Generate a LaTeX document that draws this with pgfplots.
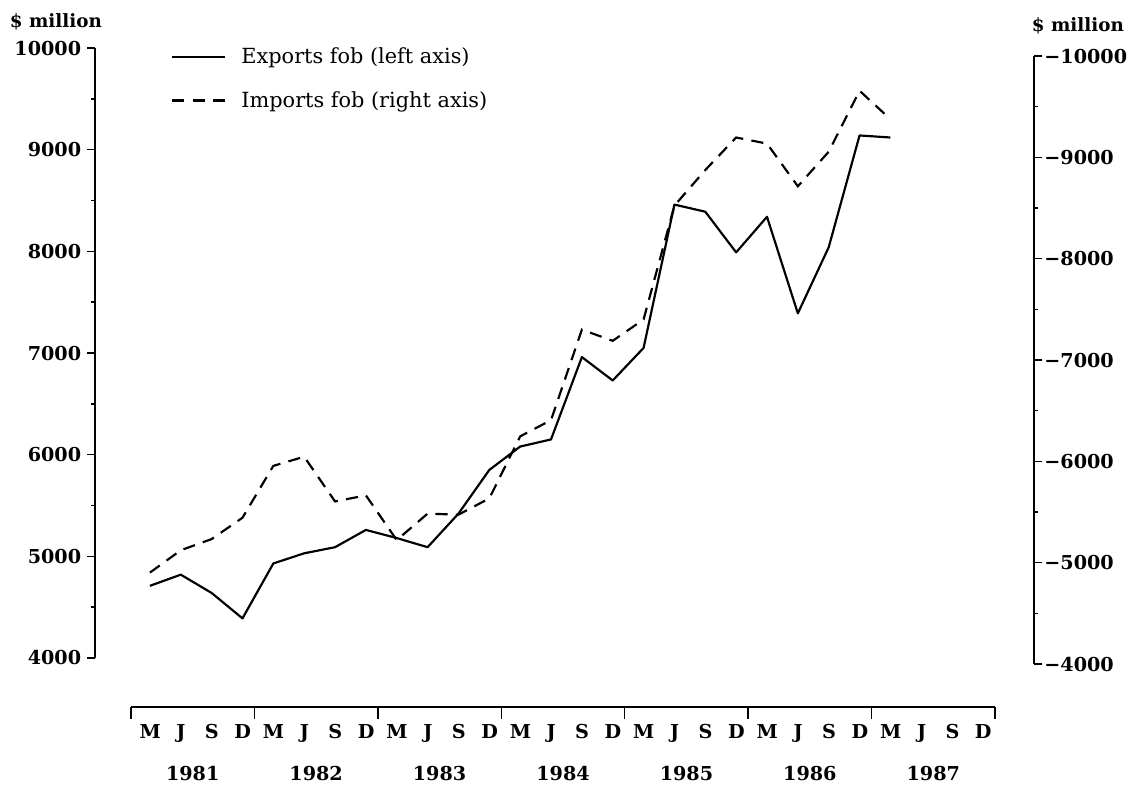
\documentclass[border=0pt]{standalone}
\usepackage{fontspec}
\setmainfont{DejaVu Serif}
\usepackage{pgfplots}
\usepackage{pgfplotstable}
\pgfplotsset{compat=1.18}
\def\u{0.6pt}
\pgfplotstableread{
i exp imp
0 4710 4840
1 4820 5060
2 4640 5170
3 4390 5380
4 4930 5890
5 5030 5980
6 5090 5540
7 5260 5600
8 5180 5160
9 5090 5420
10 5420 5410
11 5850 5570
12 6080 6180
13 6150 6340
14 6960 7230
15 6730 7120
16 7050 7330
17 8460 8450
18 8390 8800
19 7990 9120
20 8340 9060
21 7390 8640
22 8040 8980
23 9140 9580
24 9120 9300
}\trade
\begin{document}
\begin{tikzpicture}
\useasboundingbox (0,0) rectangle (1131*\u,-785*\u);
\pgfplotsset{
  common/.style={
    scale only axis,
    axis x line=none,
    tick align=outside,
    major tick length=4.8pt, minor tick length=2.4pt,
    every tick/.style={black, line width=0.9pt},
    axis line style={-, line width=1pt},
    scaled ticks=false,
    /pgf/number format/assume math mode=true,
    /pgf/number format/1000 sep={},
    ticklabel style={font=\fontsize{11.5}{14}\selectfont\bfseries},
    minor y tick num=1,
  }
}
% right axis (imports, negative scale)
\begin{axis}[common,
  width=10pt, height=364.8pt,
  at={(1034*\u,-664*\u)}, anchor=south east,
  xmin=0, xmax=1,
  ymin=-10000, ymax=-4000, y dir=reverse,
  axis y line*=right,
  ytick={-10000,-9000,...,-4000},
  yticklabels={−10000,−9000,−8000,−7000,−6000,−5000,−4000},
  yticklabel style={inner sep=1.2pt},
]
\end{axis}
% left axis with both series
\begin{axis}[common,
  width=540pt, height=366pt,
  at={(95*\u,-658*\u)}, anchor=south west,
  xmin=-1.78, xmax=27.39,
  ymin=4000, ymax=10000,
  axis y line*=left,
  ytick={4000,5000,...,10000},
  legend style={at={(0.084,1.006)}, anchor=north west, draw=none, fill=none,
    font=\fontsize{12.5}{14}\selectfont, row sep=11pt, inner sep=0pt,
    nodes={inner sep=2pt}},
  legend cell align=left,
  legend image code/.code={\draw[#1] (0pt,0pt) -- (32pt,0pt); \path (39pt,0pt);},
  clip=false,
]
\addplot[black, line width=1.3pt, line join=round] table[x=i, y=exp] {\trade};
\addlegendentry{Exports fob (left axis)}
\addplot[black, line width=1.3pt, dash pattern=on 7.3pt off 5pt] table[x=i, y=imp] {\trade};
\addlegendentry{Imports fob (right axis)}
\end{axis}
% bottom time axis
\begin{axis}[
  scale only axis, width=518.4pt, height=10pt,
  at={(131*\u,-707*\u)}, anchor=south west,
  xmin=-0.62, xmax=27.38, ymin=0, ymax=1,
  axis x line*=bottom, axis y line=none,
  axis line style={-, line width=1pt},
  xtick={0,...,27},
  xticklabels={M,J,S,D,M,J,S,D,M,J,S,D,M,J,S,D,M,J,S,D,M,J,S,D,M,J,S,D},
  major tick length=0pt,
  tick align=outside,
  every tick/.style={black, line width=0.9pt},
  xticklabel style={font=\fontsize{11.5}{14}\selectfont\bfseries, anchor=base, yshift=-19pt},
  extra x ticks={-0.62,3.38,7.38,11.38,15.38,19.38,23.38,27.38},
  extra x tick labels={},
  extra x tick style={major tick length=7pt},
  clip=false,
]
\foreach \k/\yr in {0/1981,1/1982,2/1983,3/1984,4/1985,5/1986,6/1987}{
  \edef\tmp{\noexpand\node[anchor=base, font=\noexpand\fontsize{11.5}{14}\noexpand\selectfont\noexpand\bfseries] at (axis cs:{1.38+4*\k},0) [yshift=-44pt] {\yr};}\tmp
}
\end{axis}
\node[anchor=base west, font=\fontsize{11}{13}\selectfont\bfseries] at (4*\u,-27*\u) {\$ million};
\node[anchor=base west, font=\fontsize{11}{13}\selectfont\bfseries] at (1026*\u,-31*\u) {\$ million};
\end{tikzpicture}
\end{document}
